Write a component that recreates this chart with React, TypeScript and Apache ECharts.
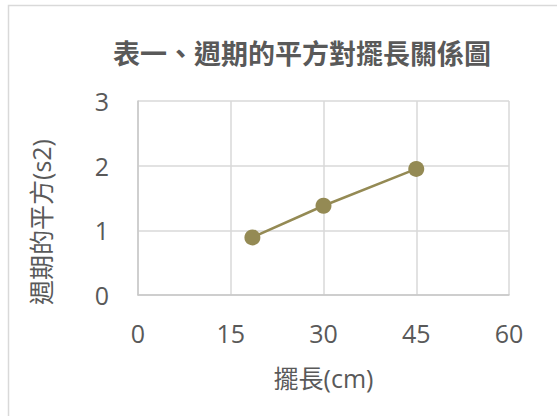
import React, { useEffect, useRef } from "react";
import * as echarts from "echarts";

const titleText = "表一、週期的平方對擺長關係圖";
const xAxisName = "擺長(cm)";
const yAxisName = "週期的平方(s2)";
const lengths = [18.5, 30, 45];
const periodSquared = [0.89, 1.38, 1.95];

const FONT = '"Open Sans", "Noto Sans CJK TC", sans-serif';
const TEXT = "#595959";

export default function App() {
  const ref = useRef<HTMLDivElement>(null);
  useEffect(() => {
    const chart = echarts.init(ref.current!, null, { renderer: "svg" });
    chart.setOption({
      animation: false,
      backgroundColor: "#ffffff",
      title: {
        text: titleText,
        left: 297,
        top: 35,
        textAlign: "center",
        textStyle: { color: TEXT, fontSize: 27, fontWeight: "bold", fontFamily: FONT },
      },
      graphic: [
        {
          type: "rect",
          shape: { x: 8.5, y: 5.5, width: 560, height: 420 },
          style: { fill: "none", stroke: "#d9d9d9", lineWidth: 1.5 },
          silent: true,
        },
        {
          type: "text",
          x: 41,
          y: 222,
          rotation: Math.PI / 2,
          style: {
            text: yAxisName,
            fill: TEXT,
            fontSize: 25,
            fontFamily: FONT,
            textAlign: "center",
            textVerticalAlign: "middle",
          },
          silent: true,
        },
      ],
      grid: { left: 138, right: 48, top: 101, bottom: 121 },
      xAxis: {
        type: "value",
        min: 0,
        max: 60,
        interval: 15,
        name: xAxisName,
        nameLocation: "middle",
        nameGap: 70,
        nameTextStyle: { color: TEXT, fontSize: 25, fontFamily: FONT },
        axisLine: { show: true, lineStyle: { color: "#c8c8c8", width: 1.5 } },
        axisTick: { show: false },
        axisLabel: { color: TEXT, fontSize: 25, fontFamily: FONT, margin: 25 },
        splitLine: { show: true, lineStyle: { color: "#d9d9d9", width: 1.5 } },
      },
      yAxis: {
        type: "value",
        min: 0,
        max: 3,
        interval: 1,
        axisLine: { show: true, lineStyle: { color: "#c8c8c8", width: 1.5 } },
        axisTick: { show: false },
        axisLabel: { color: TEXT, fontSize: 25, fontFamily: FONT, margin: 29 },
        splitLine: { show: true, lineStyle: { color: "#d9d9d9", width: 1.5 } },
      },
      series: [
        {
          type: "line",
          data: lengths.map((x, i) => [x, periodSquared[i]]),
          symbol: "circle",
          symbolSize: 16,
          itemStyle: { color: "#948a54" },
          lineStyle: { color: "#948a54", width: 2.5 },
        },
      ],
    });
    return () => chart.dispose();
  }, []);
  return (
    <div
      ref={ref}
      style={{ position: "absolute", left: 0, top: 0, width: 557, height: 416 }}
    />
  );
}
